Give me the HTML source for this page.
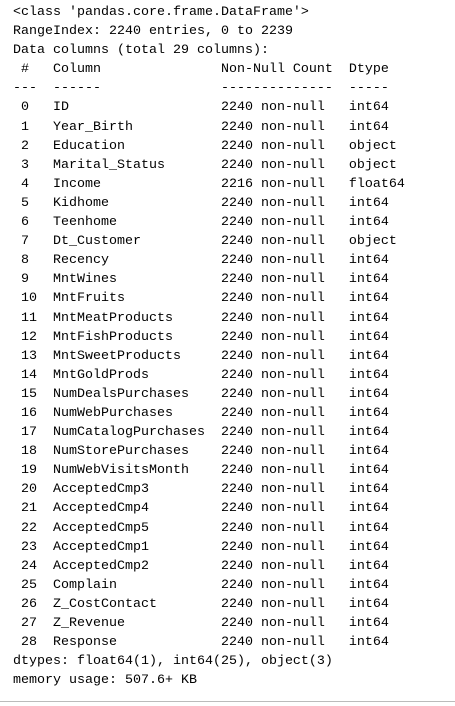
<!DOCTYPE html>
<html><head><meta charset="utf-8"><style>
html,body{margin:0;padding:0;background:#fff;width:455px;height:706px;overflow:hidden;position:relative}
pre{position:absolute;left:13px;top:3px;margin:0;font-family:"Liberation Mono",monospace;font-size:13.33px;line-height:19.1px;color:#000;letter-spacing:0}
.hr{position:absolute;left:0;top:701px;width:455px;height:1px;background:#bbb}
</style></head><body>
<pre>&lt;class 'pandas.core.frame.DataFrame'&gt;
RangeIndex: 2240 entries, 0 to 2239
Data columns (total 29 columns):
 #   Column               Non-Null Count  Dtype  
---  ------               --------------  -----  
 0   ID                   2240 non-null   int64  
 1   Year_Birth           2240 non-null   int64  
 2   Education            2240 non-null   object 
 3   Marital_Status       2240 non-null   object 
 4   Income               2216 non-null   float64
 5   Kidhome              2240 non-null   int64  
 6   Teenhome             2240 non-null   int64  
 7   Dt_Customer          2240 non-null   object 
 8   Recency              2240 non-null   int64  
 9   MntWines             2240 non-null   int64  
 10  MntFruits            2240 non-null   int64  
 11  MntMeatProducts      2240 non-null   int64  
 12  MntFishProducts      2240 non-null   int64  
 13  MntSweetProducts     2240 non-null   int64  
 14  MntGoldProds         2240 non-null   int64  
 15  NumDealsPurchases    2240 non-null   int64  
 16  NumWebPurchases      2240 non-null   int64  
 17  NumCatalogPurchases  2240 non-null   int64  
 18  NumStorePurchases    2240 non-null   int64  
 19  NumWebVisitsMonth    2240 non-null   int64  
 20  AcceptedCmp3         2240 non-null   int64  
 21  AcceptedCmp4         2240 non-null   int64  
 22  AcceptedCmp5         2240 non-null   int64  
 23  AcceptedCmp1         2240 non-null   int64  
 24  AcceptedCmp2         2240 non-null   int64  
 25  Complain             2240 non-null   int64  
 26  Z_CostContact        2240 non-null   int64  
 27  Z_Revenue            2240 non-null   int64  
 28  Response             2240 non-null   int64  
dtypes: float64(1), int64(25), object(3)
memory usage: 507.6+ KB</pre>
<div class="hr"></div>
</body></html>
